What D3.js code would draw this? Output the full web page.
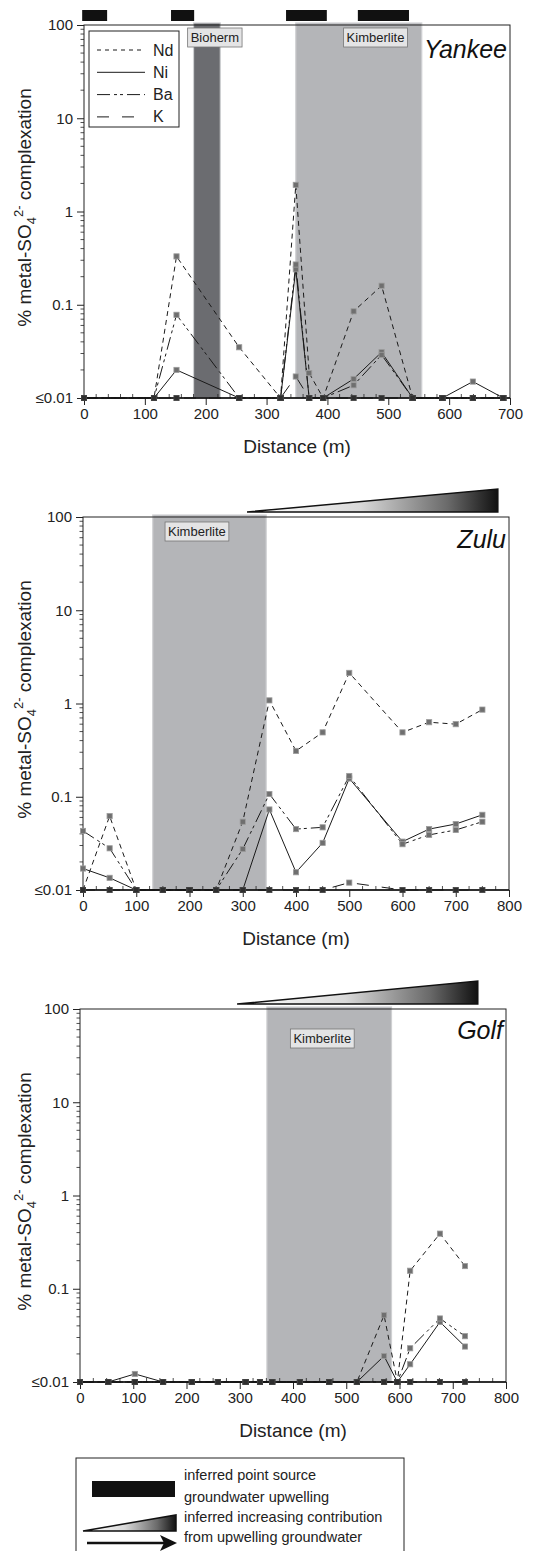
<!DOCTYPE html>
<html>
<head>
<meta charset="utf-8">
<script src="https://cdn.jsdelivr.net/npm/d3@7"></script>
<style>
  body { margin: 0; background: #fff; }
  svg { display: block; font-family: "Liberation Sans", Arial, sans-serif; }
</style>
</head>
<body>
<svg width="557" height="1551"></svg>
<script>
// ---- data ----
var seriesNames = ["Nd", "Ni", "Ba", "K"];
var yTicks = [100, 10, 1, 0.1, 0.01];

var yankeeX  = [0, 115, 152, 255, 323, 348, 370, 393, 443, 489, 540, 589, 639, 689];
var yankeeNd = [0.01, 0.01, 0.33, 0.035, 0.01, 1.93, 0.0185, 0.01, 0.085, 0.16, 0.01, 0.01, 0.01, 0.01];
var yankeeNi = [0.01, 0.01, 0.02, 0.01, 0.01, 0.24, 0.01, 0.01, 0.016, 0.031, 0.01, 0.01, 0.015, 0.01];
var yankeeBa = [0.01, 0.01, 0.078, 0.01, 0.01, 0.27, 0.01, 0.01, 0.0137, 0.029, 0.01, 0.01, 0.01, 0.01];
var yankeeK  = [0.01, 0.01, 0.01, 0.01, 0.01, 0.017, 0.01, 0.01, 0.01, 0.01, 0.01, 0.01, 0.01, 0.01];

var zuluX  = [0, 50, 100, 150, 200, 250, 300, 350, 400, 450, 500, 600, 650, 700, 750];
var zuluNd = [0.01, 0.062, 0.01, 0.01, 0.01, 0.01, 0.054, 1.08, 0.31, 0.49, 2.13, 0.49, 0.63, 0.60, 0.86];
var zuluNi = [0.017, 0.0135, 0.01, 0.01, 0.01, 0.01, 0.01, 0.073, 0.0155, 0.032, 0.157, 0.033, 0.045, 0.051, 0.064];
var zuluBa = [0.043, 0.028, 0.01, 0.01, 0.01, 0.01, 0.0275, 0.107, 0.045, 0.047, 0.167, 0.031, 0.039, 0.044, 0.054];
var zuluK  = [0.01, 0.01, 0.01, 0.01, 0.01, 0.01, 0.01, 0.01, 0.01, 0.01, 0.012, 0.01, 0.01, 0.01, 0.01];

var golfX  = [0, 53, 103, 156, 210, 259, 311, 338, 361, 413, 468, 520, 571, 596, 620, 676, 723];
var golfNd = [0.01, 0.01, 0.01, 0.01, 0.01, 0.01, 0.01, 0.01, 0.01, 0.01, 0.01, 0.01, 0.052, 0.01, 0.156, 0.39, 0.175];
var golfNi = [0.01, 0.01, 0.0122, 0.01, 0.01, 0.01, 0.01, 0.01, 0.01, 0.01, 0.01, 0.01, 0.019, 0.01, 0.0155, 0.044, 0.024];
var golfBa = [0.01, 0.01, 0.01, 0.01, 0.01, 0.01, 0.01, 0.01, 0.01, 0.01, 0.01, 0.01, 0.01, 0.01, 0.023, 0.048, 0.031];
var golfK  = [0.01, 0.01, 0.01, 0.01, 0.01, 0.01, 0.01, 0.01, 0.01, 0.01, 0.01, 0.01, 0.01, 0.01, 0.01, 0.01, 0.01];

// zones along the transect (m)
var yankeeZones = [{name: "Bioherm", from: 180, to: 224, dark: true, label: 215},
                   {name: "Kimberlite", from: 348, to: 555, dark: false, label: 479}];
var zuluZones   = [{name: "Kimberlite", from: 131, to: 344, dark: false, label: 214}];
var golfZones   = [{name: "Kimberlite", from: 351, to: 585, dark: false, label: 455}];
var yankeeSources = [[-3, 38], [143, 181], [332, 399], [450, 534]];
var zuluWedge = [308, 779];
var golfWedge = [295, 747];

var dashes = {Nd: "5,4", Ni: null, Ba: "13,4,3,3,3,4", K: "12,13"};

var svg = d3.select("svg");

var defs = svg.append("defs");
var grad = defs.append("linearGradient").attr("id", "wedge");
grad.append("stop").attr("offset", "0%").attr("stop-color", "#ffffff");
grad.append("stop").attr("offset", "45%").attr("stop-color", "#d9d9d9");
grad.append("stop").attr("offset", "80%").attr("stop-color", "#6a6a6a");
grad.append("stop").attr("offset", "100%").attr("stop-color", "#111");

var panels = [
  {title: "Yankee", left: 84, right: 510, top: 25, bottom: 398, xMax: 700, minor: 20,
   x: yankeeX, data: {Nd: yankeeNd, Ni: yankeeNi, Ba: yankeeBa, K: yankeeK},
   zones: yankeeZones, zoneLabelY: 3, sources: yankeeSources, legend: true, titleY: 58},
  {title: "Zulu", left: 83, right: 509, top: 517, bottom: 890, xMax: 800, minor: 25,
   x: zuluX, data: {Nd: zuluNd, Ni: zuluNi, Ba: zuluBa, K: zuluK},
   zones: zuluZones, zoneLabelY: 5, wedge: zuluWedge, titleY: 548},
  {title: "Golf", left: 80, right: 506, top: 1009, bottom: 1382, xMax: 800, minor: 25,
   x: golfX, data: {Nd: golfNd, Ni: golfNi, Ba: golfBa, K: golfK},
   zones: golfZones, zoneLabelY: 20, wedge: golfWedge, titleY: 1039}
];

panels.forEach(function(p) {
  var x = d3.scaleLinear().domain([0, p.xMax]).range([p.left, p.right]);
  var y = d3.scaleLog().domain([0.01, 100]).range([p.bottom, p.top]);
  var g = svg.append("g");

  // shaded zones
  p.zones.forEach(function(z) {
    g.append("rect")
      .attr("x", x(z.from)).attr("y", p.top - 2)
      .attr("width", x(z.to) - x(z.from)).attr("height", p.bottom - p.top + 2)
      .attr("fill", z.dark ? "#6b6c70" : "#b4b5b8")
      .attr("stroke", "#cfd0d2").attr("stroke-width", 1.2);
  });

  // axes frame
  g.append("rect")
    .attr("x", p.left).attr("y", p.top)
    .attr("width", p.right - p.left).attr("height", p.bottom - p.top)
    .attr("fill", "none").attr("stroke", "#222").attr("stroke-width", 1);

  // y axis (log)
  var yAxis = d3.axisLeft(y).tickValues(yTicks).tickSize(7).tickPadding(4)
    .tickFormat(function(d) { return d === 0.01 ? "\u22640.01" : d3.format("~g")(d); });
  var ya = g.append("g").attr("transform", "translate(" + p.left + ",0)").call(yAxis);
  ya.select(".domain").remove();
  ya.selectAll("text").attr("font-size", 15).attr("fill", "#222");
  ya.selectAll("line").attr("stroke", "#222");
  var minorY = [];
  [0.01, 0.1, 1, 10].forEach(function(dec) {
    for (var k = 2; k <= 9; k++) minorY.push(dec * k);
  });
  g.selectAll(".ym").data(minorY).enter().append("line")
    .attr("x1", p.left - 3.5).attr("x2", p.left)
    .attr("y1", function(d) { return y(d); }).attr("y2", function(d) { return y(d); })
    .attr("stroke", "#222").attr("stroke-width", 0.8);

  // x axis
  var xAxis = d3.axisBottom(x).ticks(p.xMax / 100).tickSize(7).tickPadding(3)
    .tickFormat(d3.format("d"));
  var xa = g.append("g").attr("transform", "translate(0," + p.bottom + ")").call(xAxis);
  xa.select(".domain").remove();
  xa.selectAll("text").attr("font-size", 15).attr("fill", "#222");
  xa.selectAll("line").attr("stroke", "#222");
  var minorX = d3.range(0, p.xMax + 1, p.minor).filter(function(d) { return d % 100 !== 0; });
  g.selectAll(".xm").data(minorX).enter().append("line")
    .attr("x1", function(d) { return x(d); }).attr("x2", function(d) { return x(d); })
    .attr("y1", p.bottom - 4).attr("y2", p.bottom)
    .attr("stroke", "#222").attr("stroke-width", 0.8);

  g.append("text")
    .attr("x", (p.left + p.right) / 2).attr("y", p.bottom + 55)
    .attr("text-anchor", "middle").attr("font-size", 19).attr("fill", "#222")
    .text("Distance (m)");

  var yl = g.append("text")
    .attr("transform", "translate(31," + ((p.top + p.bottom) / 2 - 4) + ") rotate(-90)")
    .attr("text-anchor", "middle").attr("font-size", 19).attr("fill", "#222");
  yl.append("tspan").text("% metal-SO");
  yl.append("tspan").attr("font-size", 13).attr("dy", 5).text("4");
  yl.append("tspan").attr("font-size", 13).attr("dy", -13).text("2-");
  yl.append("tspan").attr("dy", 8).text(" complexation");

  // zone labels
  p.zones.forEach(function(z) {
    var lt = g.append("text")
      .attr("x", x(z.label)).attr("y", p.top + p.zoneLabelY + 14)
      .attr("text-anchor", "middle").attr("font-size", 13).attr("fill", "#222")
      .text(z.name);
    var bb = lt.node().getBBox();
    g.insert("rect", function() { return lt.node(); })
      .attr("x", bb.x - 3).attr("y", bb.y - 2)
      .attr("width", bb.width + 6).attr("height", bb.height + 4)
      .attr("fill", "#e4e4e5").attr("stroke", "#777").attr("stroke-width", 0.8);
  });

  // title
  g.append("text")
    .attr("x", p.right - 3).attr("y", p.titleY)
    .attr("text-anchor", "end").attr("font-size", 25).attr("font-style", "italic")
    .attr("fill", "#111").text(p.title);

  // series lines
  var line = d3.line()
    .x(function(d) { return x(d[0]); })
    .y(function(d) { return y(d[1]); });
  seriesNames.slice().reverse().forEach(function(s) {
    var pts = p.x.map(function(xv, i) { return [xv, p.data[s][i]]; });
    g.append("path").datum(pts)
      .attr("d", line).attr("fill", "none")
      .attr("stroke", "#1a1a1a").attr("stroke-width", 1)
      .attr("stroke-dasharray", dashes[s]);
  });
  g.append("line")
    .attr("x1", p.left).attr("x2", p.right)
    .attr("y1", p.bottom).attr("y2", p.bottom)
    .attr("stroke", "#111").attr("stroke-width", 1.6);

  // markers
  seriesNames.forEach(function(s) {
    g.selectAll(".m" + s).data(p.x.map(function(xv, i) { return [xv, p.data[s][i]]; }))
      .enter().append("rect")
      .attr("x", function(d) { return x(d[0]) - 2.6; })
      .attr("y", function(d) { return y(d[1]) - 2.6; })
      .attr("width", 5.2).attr("height", 5.2)
      .attr("fill", function(d) { return d[1] <= 0.01 ? "#2e2e2e" : "#6f6f6f"; })
      .attr("stroke", function(d) { return d[1] <= 0.01 ? "#444" : "#9c9c9c"; })
      .attr("stroke-width", 0.8);
  });

  // point-source bars above the panel
  if (p.sources) {
    g.selectAll(".src").data(p.sources).enter().append("rect")
      .attr("x", function(d) { return x(d[0]); }).attr("y", p.top - 15)
      .attr("width", function(d) { return x(d[1]) - x(d[0]); }).attr("height", 11)
      .attr("fill", "#111");
  }

  // wedge of increasing contribution
  if (p.wedge) {
    var x0 = x(p.wedge[0]), x1 = x(p.wedge[1]), yb = p.top - 5;
    g.append("path")
      .attr("d", "M" + x0 + "," + yb + "L" + x1 + "," + yb + "L" + x1 + "," + (yb - 23) + "Z")
      .attr("fill", "url(#wedge)").attr("stroke", "#111").attr("stroke-width", 1.5)
      .attr("stroke-linejoin", "miter");
  }

  // series legend
  if (p.legend) {
    var lg = g.append("g").attr("transform", "translate(89,31)");
    lg.append("rect").attr("width", 90).attr("height", 96)
      .attr("fill", "#fff").attr("stroke", "#222").attr("stroke-width", 1);
    seriesNames.forEach(function(s, i) {
      var ly = 19 + i * 22.3;
      lg.append("line").attr("x1", 8).attr("x2", 56).attr("y1", ly).attr("y2", ly)
        .attr("stroke", "#1a1a1a").attr("stroke-width", 1)
        .attr("stroke-dasharray", s === "Nd" ? "4,4" : dashes[s]);
      lg.append("text").attr("x", 64).attr("y", ly + 5.5)
        .attr("font-size", 16).attr("fill", "#222").text(s);
    });
  }
});

// key at the bottom
var key = svg.append("g");
key.append("rect").attr("x", 76).attr("y", 1458).attr("width", 328).attr("height", 110)
  .attr("fill", "#fff").attr("stroke", "#222").attr("stroke-width", 1);
key.append("rect").attr("x", 92).attr("y", 1481).attr("width", 83).attr("height", 16)
  .attr("fill", "#111");
key.append("path").attr("d", "M83,1531L176,1531L176,1515Z")
  .attr("fill", "url(#wedge)").attr("stroke", "#111").attr("stroke-width", 1.5);
key.append("line").attr("x1", 87).attr("x2", 166).attr("y1", 1543).attr("y2", 1543)
  .attr("stroke", "#111").attr("stroke-width", 2.5);
key.append("path").attr("d", "M177,1543L160,1535L164,1543L160,1551Z").attr("fill", "#111");
var keyLines = ["inferred point source", "groundwater upwelling",
                "inferred increasing contribution", "from upwelling groundwater"];
var keyY = [1480, 1502, 1522, 1542];
key.selectAll(".kt").data(keyLines).enter().append("text")
  .attr("x", 184).attr("y", function(d, i) { return keyY[i]; })
  .attr("font-size", 14.5).attr("fill", "#222").text(function(d) { return d; });
</script>
</body>
</html>
